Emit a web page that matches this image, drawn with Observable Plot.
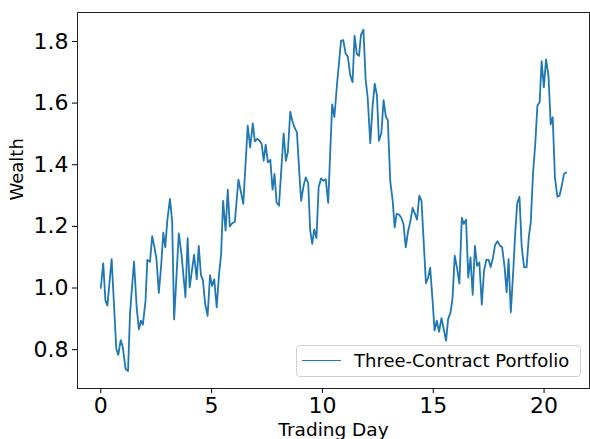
<!DOCTYPE html>
<html>
<head>
<meta charset="utf-8">
<script src="https://cdn.jsdelivr.net/npm/d3@7"></script>
<script src="https://cdn.jsdelivr.net/npm/@observablehq/plot@0.6"></script>
<style>
  html, body { margin: 0; padding: 0; background: #fff; }
  #wrap { position: relative; width: 590px; height: 439px; overflow: hidden; font-family: "DejaVu Sans", sans-serif; }
  #legend { position: absolute; left: 296px; top: 345px; width: 285px; height: 32px;
    border: 1px solid #d0d0d0; border-radius: 4px; background: rgba(255,255,255,0.8); box-sizing: border-box; }
  #legend .swatch { position: absolute; left: 5px; top: 14px; width: 39px; height: 0; border-top: 1.8px solid #1f77b4; }
  #legend .lab { position: absolute; left: 57px; top: 3px; font-size: 18px; line-height: 24px; color: #000; white-space: nowrap; }
</style>
</head>
<body>
<div id="wrap">
  <div id="chart"></div>
  <div id="legend"><div class="swatch"></div><div class="lab" id="legendLabel"></div></div>
</div>
<script>
const seriesName = "Three-Contract Portfolio";
const xLabel = "Trading Day";
const yLabel = "Wealth";
const xTicks = [0, 5, 10, 15, 20];
const yTicks = [0.8, 1.0, 1.2, 1.4, 1.6, 1.8];

const days = [
  0, 0.11, 0.21, 0.30, 0.49, 0.70, 0.79, 0.90, 0.99, 1.12,
  1.23, 1.32, 1.50, 1.62, 1.72, 1.81, 1.90, 2.02, 2.10, 2.22,
  2.32, 2.42, 2.51, 2.62, 2.73, 2.82, 2.91, 3.00, 3.12, 3.22,
  3.31, 3.52, 3.64, 3.82, 3.92, 4.01, 4.21, 4.33, 4.42, 4.52,
  4.61, 4.71, 4.82, 4.93, 5.02, 5.12, 5.23, 5.33, 5.43, 5.52,
  5.63, 5.73, 5.82, 5.93, 6.05, 6.21, 6.43, 6.63, 6.74, 6.86,
  6.95, 7.05, 7.17, 7.26, 7.35, 7.44, 7.54, 7.65, 7.75, 7.84,
  7.93, 8.04, 8.25, 8.35, 8.44, 8.55, 8.64, 8.74, 8.85, 8.97,
  9.04, 9.15, 9.25, 9.36, 9.45, 9.54, 9.63, 9.73, 9.83, 9.94,
  10.04, 10.15, 10.26, 10.44, 10.54, 10.66, 10.84, 10.94, 11.05, 11.15,
  11.25, 11.36, 11.45, 11.55, 11.65, 11.74, 11.85, 11.95, 12.04, 12.16,
  12.26, 12.36, 12.46, 12.55, 12.66, 12.76, 12.86, 12.95, 13.06, 13.17,
  13.26, 13.35, 13.46, 13.56, 13.66, 13.76, 13.87, 13.96, 14.07, 14.18,
  14.27, 14.37, 14.47, 14.55, 14.67, 14.77, 14.86, 14.97, 15.06, 15.16,
  15.26, 15.37, 15.46, 15.58, 15.67, 15.78, 15.87, 15.97, 16.08, 16.18,
  16.29, 16.38, 16.48, 16.58, 16.68, 16.78, 16.88, 16.98, 17.08, 17.19,
  17.29, 17.40, 17.50, 17.59, 17.70, 17.79, 17.90, 18.01, 18.11, 18.22,
  18.31, 18.40, 18.50, 18.61, 18.70, 18.79, 18.89, 18.99, 19.10, 19.21,
  19.31, 19.40, 19.50, 19.60, 19.70, 19.80, 19.89, 19.99, 20.09, 20.20,
  20.30, 20.39, 20.49, 20.60, 20.70, 20.80, 20.90, 21.00
];

const wealth = [
  1.000, 1.080, 0.960, 0.943, 1.094, 0.803, 0.783, 0.831, 0.810, 0.737,
  0.731, 0.917, 1.086, 0.937, 0.866, 0.894, 0.881, 0.959, 1.091, 1.085,
  1.168, 1.132, 1.096, 0.984, 1.078, 1.180, 1.132, 1.218, 1.289, 1.218,
  0.898, 1.177, 1.110, 0.970, 1.162, 1.002, 1.108, 1.028, 1.137, 1.042,
  1.024, 0.948, 0.910, 1.042, 1.007, 1.028, 0.937, 1.040, 1.110, 1.283,
  1.186, 1.319, 1.200, 1.210, 1.215, 1.352, 1.273, 1.527, 1.456, 1.534,
  1.476, 1.484, 1.478, 1.467, 1.413, 1.465, 1.408, 1.416, 1.319, 1.370,
  1.278, 1.267, 1.502, 1.413, 1.441, 1.572, 1.543, 1.521, 1.505, 1.359,
  1.283, 1.332, 1.359, 1.340, 1.186, 1.143, 1.190, 1.162, 1.327, 1.356,
  1.348, 1.353, 1.276, 1.596, 1.555, 1.662, 1.803, 1.804, 1.760, 1.750,
  1.692, 1.668, 1.819, 1.760, 1.753, 1.822, 1.838, 1.677, 1.619, 1.470,
  1.586, 1.663, 1.625, 1.478, 1.502, 1.610, 1.557, 1.545, 1.348, 1.283,
  1.197, 1.241, 1.238, 1.228, 1.206, 1.132, 1.186, 1.213, 1.260, 1.240,
  1.222, 1.300, 1.283, 1.175, 1.016, 1.034, 1.066, 0.960, 0.862, 0.894,
  0.858, 0.902, 0.872, 0.829, 0.899, 0.920, 0.967, 1.105, 1.062, 1.014,
  1.228, 1.208, 1.222, 1.034, 1.099, 0.978, 1.137, 1.072, 1.083, 0.946,
  1.056, 1.092, 1.091, 1.068, 1.100, 1.140, 1.152, 1.137, 1.132, 1.067,
  0.986, 1.094, 0.921, 1.056, 1.180, 1.276, 1.296, 1.135, 1.067, 1.067,
  1.164, 1.213, 1.370, 1.465, 1.592, 1.603, 1.736, 1.651, 1.742, 1.688,
  1.531, 1.554, 1.359, 1.296, 1.300, 1.332, 1.371, 1.375
];

const data = days.map((d, i) => ({day: d, wealth: wealth[i]}));

const chart = Plot.plot({
  width: 590,
  height: 439,
  marginLeft: 77,
  marginRight: 1,
  marginTop: 12,
  marginBottom: 51,
  style: {fontFamily: "DejaVu Sans, sans-serif", background: "#fff", color: "#000"},
  x: {domain: [-1.05, 22.05]},
  y: {domain: [0.674, 1.894]},
  marks: [
    Plot.frame({stroke: "#222", strokeWidth: 1}),
    Plot.axisX({ticks: xTicks, tickFormat: d => String(d), tickSize: 5, tickPadding: 4, fontSize: 22, label: null}),
    Plot.axisY({ticks: yTicks, tickFormat: d => d.toFixed(1), tickSize: 5, tickPadding: 4, fontSize: 22, label: null}),
    Plot.text([xLabel], {frameAnchor: "bottom", dy: 34.5, lineAnchor: "top", fontSize: 18.5, text: d => d, fill: "#000"}),
    Plot.text([yLabel], {frameAnchor: "left", dx: -60, rotate: -90, fontSize: 18, text: d => d, fill: "#000"}),
    Plot.line(data, {x: "day", y: "wealth", stroke: "#1f77b4", strokeWidth: 1.8})
  ]
});
document.getElementById("chart").appendChild(chart);
document.getElementById("legendLabel").textContent = seriesName;
</script>
</body>
</html>
